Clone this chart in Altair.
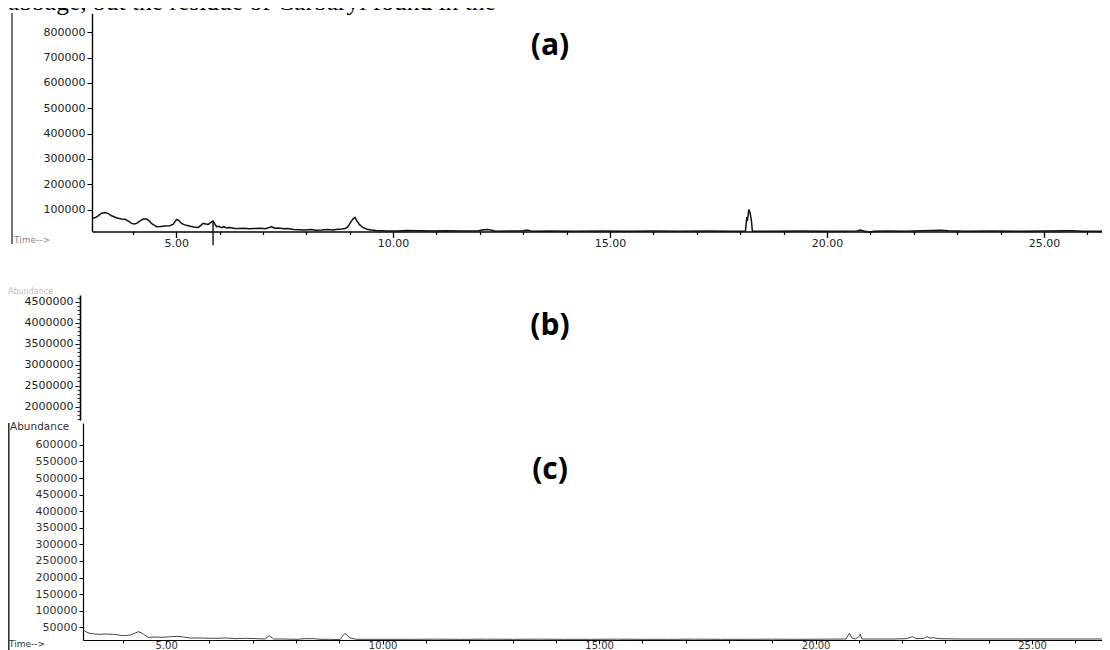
import altair as alt
import pandas as pd

# ---------------- data ----------------
# Panel (a): retention time (min) and abundance
A_TIME = [3.06, 3.13, 3.20, 3.28, 3.36, 3.44, 3.51, 3.58, 3.66, 3.74, 3.82, 3.90,
          3.97, 4.03, 4.09, 4.16, 4.24, 4.32, 4.38, 4.43, 4.50, 4.55, 4.64, 4.74,
          4.85, 4.93, 4.98, 5.01, 5.06, 5.12, 5.20, 5.28, 5.40, 5.51, 5.57, 5.62,
          5.68, 5.74, 5.80, 5.85, 5.89, 5.93, 5.98, 6.04, 6.10, 6.16, 6.22, 6.27,
          6.35, 6.43, 6.55, 6.68, 6.81, 6.95, 7.05, 7.15, 7.20, 7.26, 7.35, 7.48,
          7.58, 7.70, 7.85, 7.97, 8.10, 8.22, 8.35, 8.50, 8.62, 8.72, 8.81, 8.90,
          8.96, 9.02, 9.08, 9.12, 9.16, 9.22, 9.30, 9.40, 9.50, 9.60, 9.75, 9.88,
          10.10, 10.30, 10.60, 10.90, 11.20, 11.60, 11.95, 12.05, 12.17, 12.28, 12.35,
          12.70, 12.98, 13.05, 13.12, 13.18, 13.60, 14.20, 14.80, 15.40, 16.00, 16.60,
          17.20, 17.80, 18.12, 18.15, 18.17, 18.20, 18.23, 18.26, 18.28, 18.70, 19.40,
          20.10, 20.70, 20.76, 20.85, 21.00, 21.08, 21.40, 21.80, 22.20, 22.45, 22.60,
          22.80, 23.20, 23.80, 24.40, 25.00, 25.50, 25.67, 25.90, 26.50]
A_ABUND = [66000, 68000, 76000, 86000, 89000, 84000, 76000, 71000, 66000, 63000, 62000, 55000,
           46000, 44000, 46000, 55000, 63000, 63000, 56000, 46000, 38000, 33000, 34000, 35500,
           37000, 42000, 55000, 62000, 58000, 46000, 40000, 37000, 32000, 30000, 38000, 46000,
           44000, 42000, 50000, 55000, 44000, 33000, 35000, 29000, 33000, 28000, 30000, 29000,
           26000, 26000, 27000, 25000, 26000, 27000, 25000, 30000, 33000, 27000, 28000, 25000,
           26000, 22000, 21000, 20000, 22000, 19000, 20000, 22000, 20000, 23000, 24000, 26000,
           33000, 50000, 64000, 70000, 58000, 42000, 30000, 23000, 20000, 18000, 17000, 16000,
           16000, 18000, 17000, 16000, 17000, 16000, 16000, 20000, 22000, 19000, 15000,
           16000, 16000, 19000, 19000, 15000, 16000, 15000, 16000, 15000, 16000, 15000,
           16000, 15000, 15000, 66000, 62000, 101000, 86000, 55000, 15000, 15000, 16000,
           15000, 16000, 20000, 16000, 11000, 15000, 16000, 15000, 17000, 18000, 19000,
           17000, 15000, 16000, 15000, 16000, 17000, 17000, 15000, 15000]
A_YTICKS = [100000, 200000, 300000, 400000, 500000, 600000, 700000, 800000]
A_MARK_TIME = [5.85]          # the tall stroke that crosses the baseline in (a)
A_MARK_TOP = [55000]
A_MARK_BOTTOM = [-40000]

# Panel (b): axis only
B_YTICKS = [2000000, 2500000, 3000000, 3500000, 4000000, 4500000]
B_MINOR = list(range(1700000, 4700000, 100000))

# Panel (c)
C_TIME = [3.08, 3.16, 3.24, 3.36, 3.48, 3.60, 3.78, 3.90, 4.01, 4.10, 4.17, 4.27,
          4.36, 4.42, 4.48, 4.59, 4.75, 4.94, 5.10, 5.25, 5.40, 5.55, 5.80, 6.09,
          6.40, 6.60, 6.86, 7.10, 7.29, 7.38, 7.48, 7.70, 8.02, 8.20, 8.40, 8.60,
          8.80, 9.02, 9.08, 9.13, 9.20, 9.25, 9.40, 9.94, 10.63, 11.20, 11.80, 12.40,
          13.00, 13.60, 14.20, 14.80, 15.40, 16.00, 16.60, 17.20, 17.80, 18.40, 19.00,
          19.60, 20.20, 20.70, 20.78, 20.84, 20.92, 21.00, 21.03, 21.07, 21.40, 21.80,
          22.10, 22.24, 22.32, 22.50, 22.57, 22.64, 22.72, 22.85, 23.30, 24.00, 24.80,
          25.50, 26.20, 26.80]
C_ABUND = [42000, 36000, 32000, 30000, 29000, 30000, 29000, 27000, 25000, 26000, 27000, 32000,
           37000, 34000, 29000, 20000, 21000, 20000, 22000, 23000, 21000, 18000, 18000, 17000,
           18000, 16000, 17000, 16000, 15000, 25000, 15000, 15000, 14000, 16000, 16000, 14000,
           14000, 13000, 25000, 32000, 24000, 18000, 14000, 14000, 14000, 14500, 14000, 14500,
           14000, 14500, 14000, 14000, 14500, 14000, 14000, 14500, 14000, 14000, 14500,
           14000, 14500, 15000, 32000, 18000, 15000, 22000, 29000, 15000, 15000, 15000,
           16000, 22000, 16000, 17000, 22000, 18000, 19000, 16000, 15000, 15000, 15000,
           15000, 15000, 15000]
C_YTICKS = [50000, 100000, 150000, 200000, 250000, 300000, 350000, 400000, 450000,
            500000, 550000, 600000]

X_MAJOR = [5, 10, 15, 20, 25]
X_MINOR = [4, 6, 7, 8, 9, 11, 12, 13, 14, 16, 17, 18, 19, 21, 22, 23, 24, 26]

TOP_TEXT = "abbage, but the residue of Carbaryl found in the"

# ---------------- layout ----------------
W, H = 1094, 642
FONT = "DejaVu Sans"

a_df = pd.DataFrame({"t": A_TIME, "v": A_ABUND})
a_mark = pd.DataFrame({"t": A_MARK_TIME, "v": A_MARK_TOP, "v2": A_MARK_BOTTOM})
b_df = pd.DataFrame({"v": B_YTICKS})
c_df = pd.DataFrame({"t": C_TIME, "v": C_ABUND})

a_x = alt.Scale(domain=[3.06, 26.5], range=[84, 1101], nice=False, zero=False)
a_y = alt.Scale(domain=[14000, 874000], range=[223.5, 5.4], nice=False, zero=False)
b_y = alt.Scale(domain=[1683000, 4660000], range=[412, 287], nice=False, zero=False)
c_x = alt.Scale(domain=[3.08, 26.8], range=[75, 1102], nice=False, zero=False)
c_y = alt.Scale(domain=[12000, 665700], range=[632, 415], nice=False, zero=False)

A_XOFF = 223.5 - H
C_XOFF = 632 - H

# Panel (a)
a_line = alt.Chart(a_df).mark_line(color="#111", strokeWidth=1.5).encode(
    x=alt.X("t:Q", scale=a_x, title=None,
            axis=alt.Axis(orient="bottom", offset=A_XOFF, values=X_MAJOR, format=".2f",
                          tickSize=6, labelPadding=0, domainWidth=1.4, tickWidth=1.3,
                          labelFontSize=11, labelColor="#222")),
    y=alt.Y("v:Q", scale=a_y, title=None,
            axis=alt.Axis(orient="left", offset=-84, values=A_YTICKS, format="d",
                          tickSize=5, labelPadding=2, domainWidth=1.4,
                          labelFontSize=11, labelColor="#222")),
)
a_minor = alt.Chart(a_df).mark_line(opacity=0).encode(
    x=alt.X("t:Q", scale=a_x, title=None,
            axis=alt.Axis(orient="bottom", offset=A_XOFF, values=X_MINOR, labels=False,
                          domain=False, tickSize=3, tickWidth=1.2)),
    y=alt.Y("v:Q", scale=a_y, axis=None),
)
a_rule = alt.Chart(a_mark).mark_rule(color="#111", strokeWidth=1.4).encode(
    x=alt.X("t:Q", scale=a_x, axis=None),
    y=alt.Y("v:Q", scale=a_y, axis=None),
    y2="v2:Q",
)

# Panel (b)
b_axis = alt.Chart(b_df).mark_point(opacity=0).encode(
    y=alt.Y("v:Q", scale=b_y, title=None,
            axis=alt.Axis(orient="left", offset=-72, values=B_YTICKS, format="d",
                          tickSize=5, labelPadding=2, domainWidth=1.6,
                          labelFontSize=11, labelColor="#222")),
)
b_minor = alt.Chart(b_df).mark_point(opacity=0).encode(
    y=alt.Y("v:Q", scale=b_y, title=None,
            axis=alt.Axis(orient="left", offset=-72, values=B_MINOR, labels=False,
                          domain=False, tickSize=3, tickColor="#333")),
)

# Panel (c)
c_line = alt.Chart(c_df).mark_line(color="#444", strokeWidth=1.0).encode(
    x=alt.X("t:Q", scale=c_x, title=None,
            axis=alt.Axis(orient="bottom", offset=C_XOFF, values=X_MAJOR, format=".2f",
                          tickSize=4, labelPadding=-4, domainWidth=1.2,
                          labelFontSize=10, labelColor="#333")),
    y=alt.Y("v:Q", scale=c_y, title=None,
            axis=alt.Axis(orient="left", offset=-75, values=C_YTICKS, format="d",
                          tickSize=4, labelPadding=2, domainWidth=1.2,
                          labelFontSize=11, labelColor="#333")),
)
c_minor = alt.Chart(c_df).mark_line(opacity=0).encode(
    x=alt.X("t:Q", scale=c_x, title=None,
            axis=alt.Axis(orient="bottom", offset=C_XOFF, values=X_MINOR, labels=False,
                          domain=False, tickSize=3)),
    y=alt.Y("v:Q", scale=c_y, axis=None),
)


def label(txt, x, y, size, color="#000", weight="normal", font=FONT,
          align="left", baseline="middle"):
    return alt.Chart(pd.DataFrame({"s": [txt]})).mark_text(
        align=align, baseline=baseline, fontSize=size, font=font,
        fontWeight=weight, color=color,
    ).encode(text="s:N", x=alt.value(x), y=alt.value(y))


def vline(x, y1, y2, color, width):
    return alt.Chart(pd.DataFrame({"k": [0]})).mark_rule(
        color=color, strokeWidth=width
    ).encode(x=alt.value(x), y=alt.value(y1), y2=alt.value(y2))


decor = [
    label(TOP_TEXT, 0, 2, 25.5, font="Liberation Serif", baseline="alphabetic"),
    label("(a)", 542, 38, 30, weight="bold", font="Open Sans", align="center"),
    label("(b)", 542, 318, 30, weight="bold", font="Open Sans", align="center"),
    label("(c)", 542, 462, 30, weight="bold", font="Open Sans", align="center"),
    label("Time-->", 6, 232, 9, color="#888"),
    label("Abundance", 0, 284, 8, color="#bbb"),
    label("Abundance", 2, 419, 10.5, color="#333"),
    label("Time-->", 1, 636, 9, color="#333"),
    vline(4, 5, 236, "#444", 1.5),
    vline(0.8, 415, 650, "#333", 1.6),
]

chart = alt.layer(
    a_line, a_minor, a_rule, b_axis, b_minor, c_line, c_minor, *decor
).resolve_scale(x="independent", y="independent").resolve_axis(
    x="independent", y="independent"
).properties(
    width=W, height=H, padding=0, autosize=alt.AutoSizeParams(type="none")
).configure_view(stroke=None).configure_axis(
    grid=False, labelFont=FONT, domainColor="#000", tickColor="#000"
)

chart.save("out.html", embed_options={"renderer": "svg", "actions": False})
